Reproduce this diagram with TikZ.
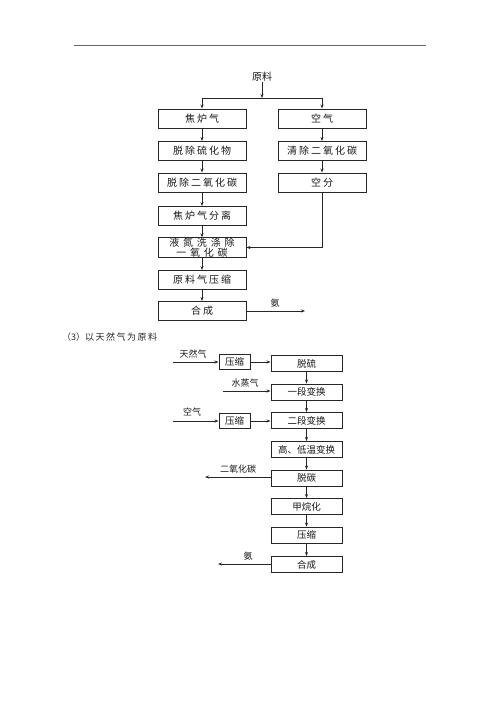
\documentclass[tikz,border=0pt]{standalone}
\usepackage{fontspec}
\newfontfamily\cjk{Noto Sans CJK SC}
\newfontfamily\cjkw[LetterSpace=20]{Noto Sans CJK SC}
\newfontfamily\cjkww[LetterSpace=38]{Noto Sans CJK SC}
\usetikzlibrary{arrows.meta}
\begin{document}
\begin{tikzpicture}[x=1pt,y=-1pt,
  box/.style={draw=black!85,line width=0.9pt,minimum height=18pt,inner sep=0pt,font=\cjk\fontsize{9.5}{10}\selectfont,text=black!90},
  topbox/.style={box,minimum width=88pt,minimum height=19pt,font=\cjkw\fontsize{10}{10}\selectfont},
  botbox/.style={box,minimum width=71pt,minimum height=16pt},
  smallbox/.style={box,minimum width=31pt,minimum height=15pt},
  lbl/.style={font=\cjk\fontsize{9}{10}\selectfont,text=black!90,inner sep=0pt},
  arr/.style={draw=black!85,line width=0.7pt,-{Stealth[length=4pt,width=3pt]}},
  ln/.style={draw=black!85,line width=0.7pt}]
\useasboundingbox (0,0) rectangle (500,706);
\draw[draw=black!60,line width=1pt] (74,46) -- (426,46);
% top diagram
\node[lbl,font=\cjk\fontsize{10}{10}\selectfont] (yl) at (262,77) {原料};
\coordinate (bar) at (262,98);
\coordinate (barL) at (202,98);
\coordinate (barR) at (322,98);
\node[topbox] (a1) at (202,118.5) {焦炉气};
\node[topbox] (a2) at (202,151) {脱除硫化物};
\node[topbox] (a3) at (202,182.5) {脱除二氧化碳};
\node[topbox] (a4) at (202,216) {焦炉气分离};
\node[topbox,align=center,font=\cjkww\fontsize{10}{8}\selectfont] (a5) at (202,247.5) {液氮洗涤除\\一氧化碳};
\node[topbox] (a6) at (202,280) {原料气压缩};
\node[topbox] (a7) at (202,311) {合成};
\node[topbox] (b1) at (322,118.5) {空气};
\node[topbox] (b2) at (322,151) {清除二氧化碳};
\node[topbox] (b3) at (322,182.5) {空分};
\coordinate (bc) at (322,247.5);
\coordinate (nh3a) at (305,311);
\node[lbl] (nh3al) at (275,303) {氨};
\draw[arr] (yl) -- (bar);
\draw[ln] (barL) -- (barR);
\draw[arr] (barL) -- (a1);
\draw[arr] (barR) -- (b1);
\draw[arr] (a1) -- (a2);
\draw[arr] (a2) -- (a3);
\draw[arr] (a3) -- (a4);
\draw[arr] (a4) -- (a5);
\draw[arr] (a5) -- (a6);
\draw[arr] (a6) -- (a7);
\draw[arr] (b1) -- (b2);
\draw[arr] (b2) -- (b3);
\draw[arr] (b3) -- (bc) -- (a5.east);
\draw[arr] (a7) -- (nh3a);
% caption
\node[font=\cjk\fontsize{9}{10}\selectfont,anchor=west,inner sep=0pt,text=black!85] (cap) at (62,337) {（3）以\,天\,然\,气\,为\,原\,料};
% bottom diagram
\node[botbox] (c1) at (306.5,363.5) {脱硫};
\node[botbox] (c2) at (306.5,392) {一段变换};
\node[botbox] (c3) at (306.5,420.5) {二段变换};
\node[botbox] (c4) at (306.5,449.5) {高、低温变换};
\node[botbox] (c5) at (306.5,478) {脱碳};
\node[botbox] (c6) at (306.5,506.5) {甲烷化};
\node[botbox] (c7) at (306.5,535) {压缩};
\node[botbox] (c8) at (306.5,564.5) {合成};
\node[smallbox] (p1) at (234.5,362) {压缩};
\node[smallbox] (p2) at (234.5,421) {压缩};
\coordinate (trq) at (173,362);
\node[lbl] (trql) at (193,354) {天然气};
\coordinate (szq) at (223,391);
\node[lbl] (szql) at (245,383.5) {水蒸气};
\coordinate (kq) at (173,421);
\node[lbl] (kql) at (192,412) {空气};
\coordinate (co2) at (205,477);
\node[lbl] (co2l) at (238,469.5) {二氧化碳};
\coordinate (nh3b) at (218,564);
\node[lbl] (nh3bl) at (248,556.5) {氨};
\draw[arr] (trq) -- (p1);
\draw[arr] (p1) -- (c1.west |- p1);
\draw[arr] (szq) -- (c2.west |- szq);
\draw[arr] (kq) -- (p2);
\draw[arr] (p2) -- (c3.west |- p2);
\draw[arr] (c1) -- (c2);
\draw[arr] (c2) -- (c3);
\draw[arr] (c3) -- (c4);
\draw[arr] (c4) -- (c5);
\draw[arr] (c5) -- (c6);
\draw[arr] (c6) -- (c7);
\draw[arr] (c7) -- (c8);
\draw[arr] (c5.west |- co2) -- (co2);
\draw[arr] (c8.west |- nh3b) -- (nh3b);
\end{tikzpicture}
\end{document}
